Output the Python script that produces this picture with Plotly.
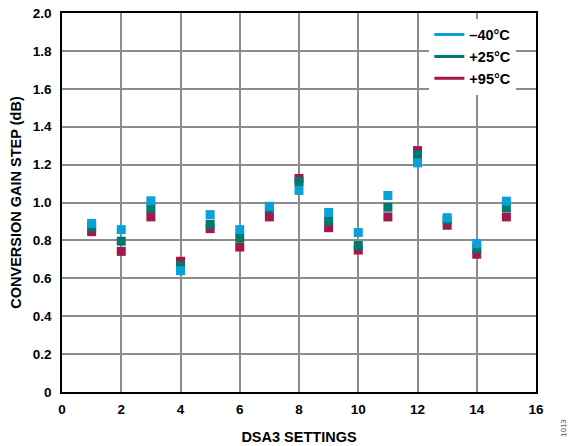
import plotly.graph_objects as go

settings = list(range(1, 16))
step_m40 = [0.89, 0.857, 1.009, 0.64, 0.936, 0.857, 0.98, 1.064, 0.947, 0.842, 1.037, 1.209, 0.92, 0.784, 1.007]
step_p25 = [0.87, 0.796, 0.968, 0.665, 0.885, 0.812, 0.968, 1.11, 0.903, 0.773, 0.975, 1.253, 0.908, 0.757, 0.973]
step_p95 = [0.846, 0.742, 0.924, 0.69, 0.862, 0.765, 0.924, 1.127, 0.867, 0.749, 0.924, 1.274, 0.88, 0.727, 0.924]

series_names = ["\u201340°C", "+25°C", "+95°C"]
colors = ["#0AA0DA", "#007A6E", "#A3184A"]
ytick_vals = [0, 0.2, 0.4, 0.6, 0.8, 1.0, 1.2, 1.4, 1.6, 1.8, 2.0]
ytick_text = ["0", "0.2", "0.4", "0.6", "0.8", "1.0", "1.2", "1.4", "1.6", "1.8", "2.0"]
xtick_vals = list(range(0, 17, 2))

FONT = "Liberation Sans, Arial, sans-serif"

fig = go.Figure()
data = [step_m40, step_p25, step_p95]
# draw hot first so cold sits on top
for i in [2, 1, 0]:
    fig.add_trace(go.Scatter(x=settings, y=data[i], mode="markers",
                             marker=dict(symbol="square", size=9, color=colors[i],
                                         line=dict(width=0)),
                             showlegend=False, hoverinfo="x+y"))
for i in range(3):
    fig.add_trace(go.Scatter(x=[None], y=[None], mode="lines", name=series_names[i],
                             line=dict(color=colors[i], width=3)))

fig.update_layout(
    width=571, height=446,
    margin=dict(l=62, r=35, t=13, b=54),
    plot_bgcolor="white", paper_bgcolor="white",
    font=dict(family=FONT, size=13, color="#000"),
    legend=dict(x=0.775, y=0.985, xanchor="left", yanchor="top",
                bgcolor="white", borderwidth=0,
                font=dict(family=FONT, size=14.5, color="#000", weight="bold"),
                tracegroupgap=0),
    xaxis=dict(range=[0, 16], tickvals=xtick_vals, showgrid=True, gridcolor="#8c8c8c",
               gridwidth=1.5, showline=True, linecolor="#000", linewidth=1.5, mirror=True,
               ticks="outside", ticklen=4, tickcolor="rgba(0,0,0,0)", zeroline=False,
               automargin=False,
               tickfont=dict(family=FONT, size=13.5, weight="bold"),
               title=dict(text="<b>DSA3 SETTINGS</b>", font=dict(size=14.5), standoff=16)),
    yaxis=dict(range=[0, 2.0], tickvals=ytick_vals, ticktext=ytick_text, showgrid=True,
               gridcolor="#8c8c8c", gridwidth=1.5, showline=True, linecolor="#000",
               linewidth=1.5, mirror=True, ticks="outside", ticklen=6,
               tickcolor="rgba(0,0,0,0)", zeroline=False, automargin=False,
               tickfont=dict(family=FONT, size=13.5, weight="bold"),
               title=dict(text="<b>CONVERSION GAIN STEP (dB)</b>", font=dict(size=14.5), standoff=8)),
)
fig.add_annotation(text="1013", xref="paper", yref="paper",
                   x=(563 - 62) / 474, y=(392 - 428) / 379,
                   xanchor="center", yanchor="middle", showarrow=False,
                   textangle=-90, font=dict(size=8, color="#555"))
fig.write_html("out.html")
